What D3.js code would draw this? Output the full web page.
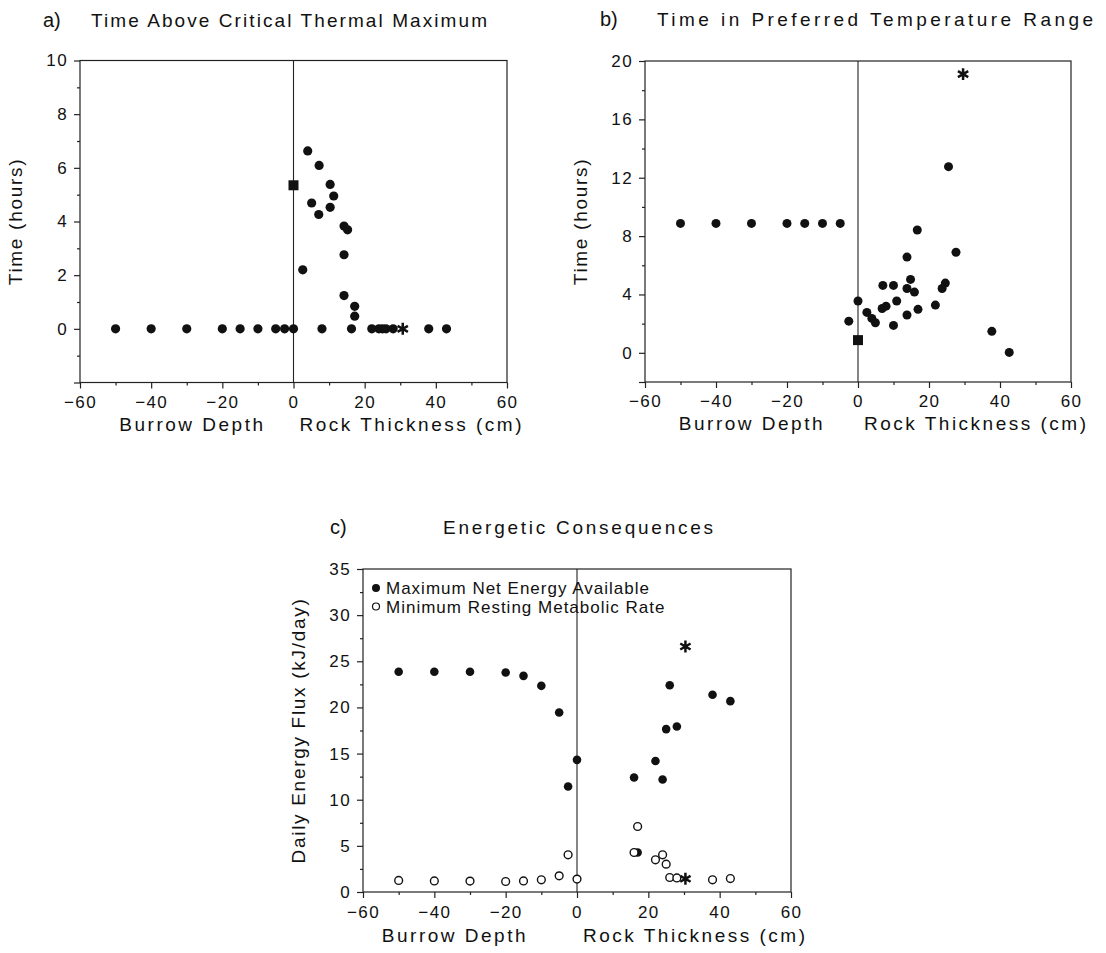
<!DOCTYPE html>
<html>
<head>
<meta charset="utf-8">
<script src="https://cdn.jsdelivr.net/npm/d3@7"></script>
<style>
  body { margin: 0; background: #fff; }
  svg text { font-family: "Liberation Sans", Arial, sans-serif; fill: #111; }
  .tick text { font-size: 17px; letter-spacing: 1.4px; }
  .title { font-size: 19px; }
  .axis-label { font-size: 19px; letter-spacing: 2.5px; }
  .y-label { font-size: 19px; letter-spacing: 1.7px; }
  .legend text { font-size: 17px; letter-spacing: 1px; }
  .tick line { stroke: #222; stroke-width: 1.2; }
</style>
</head>
<body>
<svg id="fig" width="1106" height="953"></svg>
<script>
// x is one axis for both: negative = burrow depth, positive = rock thickness (cm)
var burrowDepths = [-50, -40, -30, -20, -15, -10, -5, -2.5, 0];

// a) time above critical thermal maximum (hours)
var ctmaxBurrowHours = [0, 0, 0, 0, 0, 0, 0, 0, 0];
var ctmaxRockCm = [2.6, 4, 5.1, 7.2, 7.1, 8, 10.3, 10.3, 11.3, 14.2, 15.2, 14.2, 14.2, 16.3, 17.2, 17.2, 22, 24, 25, 26, 28, 38, 43];
var ctmaxRockHours = [2.2, 6.63, 4.69, 6.09, 4.26, 0, 5.38, 4.53, 4.95, 3.83, 3.69, 2.76, 1.24, 0, 0.84, 0.47, 0, 0, 0, 0, 0, 0, 0];
var ctmaxSquare = [0, 5.35];
var ctmaxStar = [30.7, 0];

// b) time in preferred temperature range (hours)
var prefBurrowCm = [-50, -40, -30, -20, -15, -10, -5, -2.6, 0];
var prefBurrowHours = [8.87, 8.87, 8.87, 8.87, 8.87, 8.87, 8.87, 2.17, 3.55];
var prefRockCm = [2.5, 3.9, 4.9, 6.8, 7.0, 7.9, 10, 10, 10.9, 13.8, 13.8, 13.8, 14.8, 15.9, 16.7, 16.9, 21.8, 23.7, 24.6, 25.5, 27.6, 37.7, 42.6];
var prefRockHours = [2.77, 2.36, 2.06, 3.04, 4.62, 3.2, 4.62, 1.88, 3.55, 6.56, 4.41, 2.59, 5.03, 4.16, 8.42, 2.98, 3.27, 4.41, 4.78, 12.76, 6.89, 1.47, 0.03];
var prefSquare = [0, 0.87];
var prefStar = [29.6, 19.1];

// c) energetic consequences (kJ/day)
var energyRockCm = [16, 17, 22, 24, 25, 26, 28, 38, 43];
var netEnergyBurrow = [23.86, 23.86, 23.86, 23.78, 23.42, 22.34, 19.45, 11.43, 14.32];
var netEnergyRock = [12.4, 4.28, 14.2, 12.19, 17.65, 22.4, 17.93, 21.37, 20.68];
var restingBurrow = [1.25, 1.2, 1.18, 1.14, 1.2, 1.32, 1.75, 4.03, 1.4];
var restingRock = [4.28, 7.1, 3.49, 4.03, 3.02, 1.57, 1.52, 1.32, 1.46];
var netEnergyStar = [30.4, 26.6];
var restingStar = [30.4, 1.43];
var legendLabels = ["Maximum Net Energy Available", "Minimum Resting Metabolic Rate"];

var xTicks = [-60, -40, -20, 0, 20, 40, 60];
var xMinorTicks = [-50, -30, -10, 10, 30, 50];

var svg = d3.select("#fig");

function pairs(xs, ys) {
  return xs.map((v, i) => [v, ys[i]]);
}

function drawPanel(p) {
  var x = d3.scaleLinear().domain([-60, 60]).range([p.left, p.right]);
  var y = d3.scaleLinear().domain(p.yDomain).range([p.bottom, p.top]);
  var g = svg.append("g");

  // minor ticks
  g.append("g")
      .attr("class", "axis")
      .attr("transform", "translate(0," + p.bottom + ")")
      .call(d3.axisBottom(x).tickValues(xMinorTicks).tickSize(3).tickFormat(""));
  g.append("g")
      .attr("class", "axis")
      .attr("transform", "translate(" + p.left + ",0)")
      .call(d3.axisLeft(y).tickValues(p.yMinor).tickSize(3).tickFormat(""));

  // major ticks
  g.append("g")
      .attr("class", "axis")
      .attr("transform", "translate(0," + p.bottom + ")")
      .call(d3.axisBottom(x).tickValues(xTicks).tickSize(6).tickPadding(p.xPad));
  g.append("g")
      .attr("class", "axis")
      .attr("transform", "translate(" + p.left + ",0)")
      .call(d3.axisLeft(y).tickValues(p.yTicks).tickSize(6).tickPadding(6)
              .tickFormat(d => d < p.yDomain[0] + 0.001 && p.yDomain[0] < 0 ? "" : d));

  g.selectAll(".axis").attr("font-size", null).attr("font-family", null);
  g.selectAll(".axis .domain").remove();

  // frame and the zero line
  g.append("rect")
      .attr("x", p.left)
      .attr("y", p.top)
      .attr("width", p.right - p.left)
      .attr("height", p.bottom - p.top)
      .attr("fill", "none")
      .attr("stroke", "#222")
      .attr("stroke-width", 1.2);

  g.append("line")
      .attr("x1", x(0)).attr("x2", x(0))
      .attr("y1", p.top).attr("y2", p.bottom)
      .attr("stroke", "#222")
      .attr("stroke-width", 1.1);

  // titles
  g.append("text")
      .attr("class", "title")
      .attr("x", p.letterX)
      .attr("y", p.titleY)
      .style("font-size", "20px")
      .text(p.letter);
  g.append("text")
      .attr("class", "title")
      .attr("x", p.titleX)
      .attr("y", p.titleY)
      .attr("textLength", p.titleWidth)
      .attr("lengthAdjust", "spacing")
      .text(p.title);

  // axis labels
  g.append("text")
      .attr("class", "axis-label")
      .attr("x", x(0) - p.burrowGap)
      .attr("y", p.bottom + p.labelGap)
      .style("text-anchor", "end")
      .text("Burrow Depth");
  g.append("text")
      .attr("class", "axis-label")
      .attr("x", x(0) + 6)
      .attr("y", p.bottom + p.labelGap)
      .text("Rock Thickness (cm)");

  g.append("text")
      .attr("class", "y-label")
      .attr("transform", "rotate(-90)")
      .attr("x", -(p.top + p.bottom) / 2)
      .attr("y", p.left - 58)
      .style("text-anchor", "middle")
      .text(p.yLabel);

  // markers
  g.selectAll(".dot")
    .data(p.filled)
    .enter()
    .append("circle")
      .attr("cx", d => x(d[0]))
      .attr("cy", d => y(d[1]))
      .attr("r", p.dotR)
      .attr("fill", "#111");

  g.selectAll(".open")
    .data(p.open || [])
    .enter()
    .append("circle")
      .attr("cx", d => x(d[0]))
      .attr("cy", d => y(d[1]))
      .attr("r", 3.9)
      .attr("fill", "#fff")
      .attr("stroke", "#111")
      .attr("stroke-width", 1.4);

  g.selectAll(".square")
    .data(p.squares || [])
    .enter()
    .append("path")
      .attr("transform", d => "translate(" + x(d[0]) + "," + y(d[1]) + ")")
      .attr("d", d3.symbol(d3.symbolSquare, 100))
      .attr("fill", "#111");

  g.selectAll(".star")
    .data(p.stars || [])
    .enter()
    .append("path")
      .attr("transform", d => "translate(" + x(d[0]) + "," + y(d[1]) + ")")
      .attr("d", d3.symbol(d3.symbolAsterisk, 100))
      .attr("fill", "none")
      .attr("stroke", "#111")
      .attr("stroke-width", 2.5);

  return { g: g, x: x, y: y };
}

drawPanel({
  left: 80, right: 507, top: 60.5, bottom: 382.5,
  yDomain: [-2, 10],
  yTicks: [-2, 0, 2, 4, 6, 8, 10],
  yMinor: [-1, 1, 3, 5, 7, 9],
  xPad: 7, labelGap: 48, dotR: 4.6,
  letter: "a)", letterX: 43, titleX: 91, titleY: 27, titleWidth: 396,
  title: "Time Above Critical Thermal Maximum",
  yLabel: "Time (hours)",
  burrowGap: 28,
  filled: pairs(burrowDepths, ctmaxBurrowHours).concat(pairs(ctmaxRockCm, ctmaxRockHours)),
  squares: [ctmaxSquare],
  stars: [ctmaxStar]
});

drawPanel({
  left: 645, right: 1071, top: 61, bottom: 382,
  yDomain: [-2, 20],
  yTicks: [-2, 0, 4, 8, 12, 16, 20],
  yMinor: [2, 6, 10, 14, 18],
  xPad: 7, labelGap: 48, dotR: 4.5,
  letter: "b)", letterX: 600, titleX: 657, titleY: 26, titleWidth: 436,
  title: "Time in Preferred Temperature Range",
  yLabel: "Time (hours)",
  burrowGap: 33,
  filled: pairs(prefBurrowCm, prefBurrowHours).concat(pairs(prefRockCm, prefRockHours)),
  squares: [prefSquare],
  stars: [prefStar]
});

var c = drawPanel({
  left: 363, right: 791, top: 569, bottom: 892,
  yDomain: [0, 35],
  yTicks: [0, 5, 10, 15, 20, 25, 30, 35],
  yMinor: [2.5, 7.5, 12.5, 17.5, 22.5, 27.5, 32.5],
  xPad: 8, labelGap: 50, dotR: 4.3,
  letter: "c)", letterX: 330, titleX: 443, titleY: 534, titleWidth: 270,
  title: "Energetic Consequences",
  yLabel: "Daily Energy Flux (kJ/day)",
  burrowGap: 49,
  filled: pairs(burrowDepths, netEnergyBurrow).concat(pairs(energyRockCm, netEnergyRock)),
  open: pairs(burrowDepths, restingBurrow).concat(pairs(energyRockCm, restingRock)),
  stars: [netEnergyStar, restingStar]
});

// legend for c)
var legend = c.g.append("g")
    .attr("class", "legend")
    .attr("transform", "translate(376,588)");

legend.selectAll("circle")
  .data(legendLabels)
  .enter()
  .append("circle")
    .attr("cx", 0)
    .attr("cy", (d, i) => i * 18.5)
    .attr("r", (d, i) => i === 0 ? 4 : 3.5)
    .attr("fill", (d, i) => i === 0 ? "#111" : "#fff")
    .attr("stroke", "#111")
    .attr("stroke-width", (d, i) => i === 0 ? 0 : 1.2);

legend.selectAll("text")
  .data(legendLabels)
  .enter()
  .append("text")
    .attr("x", 10)
    .attr("y", (d, i) => i * 18.5 + 6)
    .text(d => d);
</script>
</body>
</html>
